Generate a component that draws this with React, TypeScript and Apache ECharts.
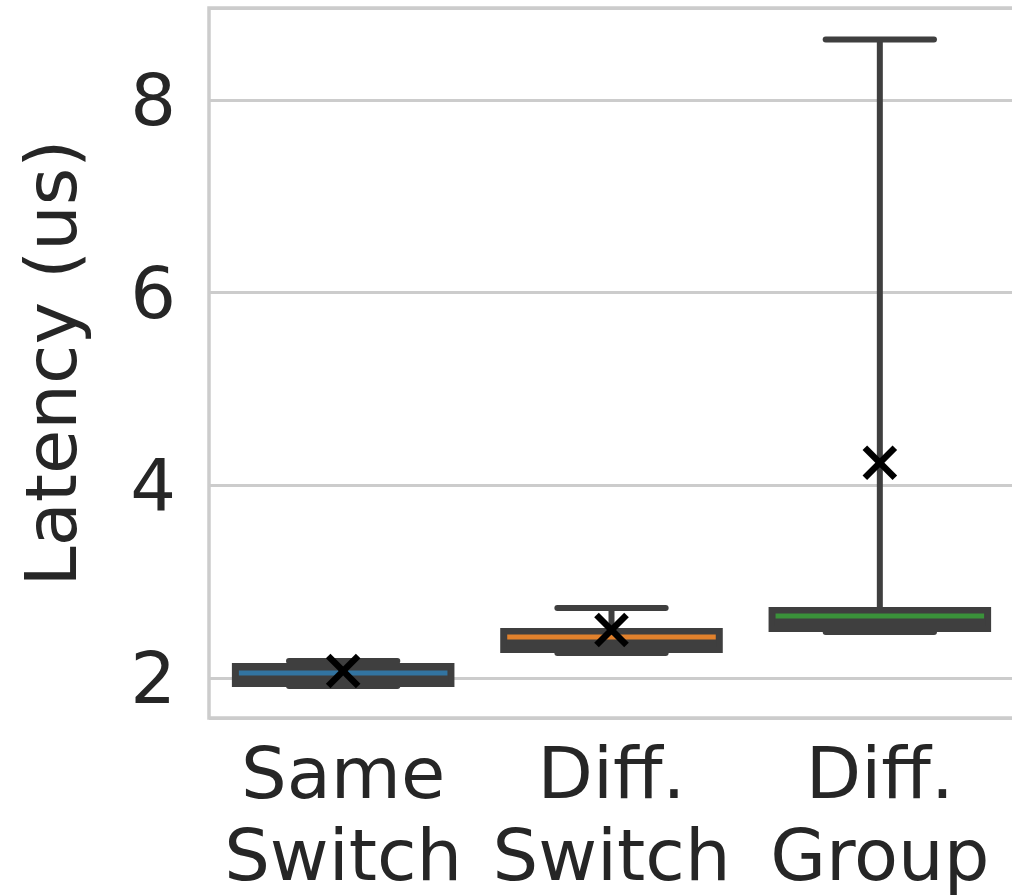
import React, { useEffect, useRef } from "react";
import * as echarts from "echarts";

const categories = ["Same\nSwitch", "Diff.\nSwitch", "Diff.\nGroup"];
const whiskerLow = [1.917, 2.26, 2.478];
const q1 = [1.938, 2.291, 2.509];
const median = [2.052, 2.426, 2.644];
const q3 = [2.125, 2.488, 2.706];
const whiskerHigh = [2.177, 2.727, 8.629];
const mean = [2.073, 2.499, 4.234];
const medianColors = ["#3274a1", "#e1812c", "#3a923a"];
const yTicks = [2, 4, 6, 8];

const LINE = "#3f3f3f";
const FONT = "DejaVu Sans";

export default function App() {
  const ref = useRef<HTMLDivElement>(null);
  useEffect(() => {
    if (!ref.current) return;
    const chart = echarts.init(ref.current, null, { renderer: "svg" });
    const data = categories.map((_, i) => [
      i,
      whiskerLow[i],
      q1[i],
      median[i],
      q3[i],
      whiskerHigh[i],
      mean[i],
    ]);
    const renderItem = (params: any, api: any) => {
      const i = api.value(0);
      const band = api.size([1, 0])[0];
      const half = (band * 0.807) / 2;
      const capHalf = half / 2;
      const cx = api.coord([i, api.value(1)])[0];
      const yLow = api.coord([i, api.value(1)])[1];
      const yQ1 = api.coord([i, api.value(2)])[1];
      const yMed = api.coord([i, api.value(3)])[1];
      const yQ3 = api.coord([i, api.value(4)])[1];
      const yHigh = api.coord([i, api.value(5)])[1];
      const [mx, my] = api.coord([i, api.value(6)]);
      const lw = 6;
      const s = 15;
      return {
        type: "group",
        children: [
          {
            type: "line",
            shape: { x1: cx, y1: yHigh, x2: cx, y2: yLow },
            style: { stroke: LINE, lineWidth: lw },
          },
          {
            type: "line",
            shape: { x1: cx - capHalf, y1: yHigh, x2: cx + capHalf, y2: yHigh },
            style: { stroke: LINE, lineWidth: lw, lineCap: "round" },
          },
          {
            type: "line",
            shape: { x1: cx - capHalf, y1: yLow, x2: cx + capHalf, y2: yLow },
            style: { stroke: LINE, lineWidth: lw, lineCap: "round" },
          },
          {
            type: "rect",
            shape: { x: cx - half, y: yQ3, width: 2 * half, height: yQ1 - yQ3 },
            style: { fill: LINE, stroke: LINE, lineWidth: lw },
          },
          {
            type: "line",
            shape: { x1: cx - half + 4, y1: yMed, x2: cx + half - 4, y2: yMed },
            style: { stroke: medianColors[i], lineWidth: 5 },
          },
          {
            type: "line",
            shape: { x1: mx - s, y1: my - s, x2: mx + s, y2: my + s },
            style: { stroke: "#000000", lineWidth: 6.5 },
          },
          {
            type: "line",
            shape: { x1: mx - s, y1: my + s, x2: mx + s, y2: my - s },
            style: { stroke: "#000000", lineWidth: 6.5 },
          },
        ],
      };
    };
    chart.setOption({
      animation: false,
      backgroundColor: "#ffffff",
      grid: {
        left: 209,
        right: -2,
        top: 8,
        bottom: 178,
        show: true,
        borderColor: "#cccccc",
        borderWidth: 3.5,
        containLabel: false,
        outerBoundsMode: "none",
      },
      xAxis: {
        type: "category",
        data: categories,
        boundaryGap: true,
        axisLine: { show: false },
        axisTick: { show: false },
        splitLine: { show: false },
        axisLabel: {
          fontFamily: FONT,
          fontSize: 72,
          color: "#262626",
          lineHeight: 82,
          margin: 14,
          interval: 0,
        },
      },
      yAxis: {
        type: "value",
        min: 1.585,
        max: 8.955,
        splitNumber: 3,
        minInterval: 2,
        maxInterval: 2,
        name: "Latency (us)",
        nameLocation: "middle",
        nameGap: 122,
        nameTextStyle: { fontFamily: FONT, fontSize: 72, color: "#262626" },
        axisLine: { show: false },
        axisTick: { show: false },
        splitLine: { show: true, lineStyle: { color: "#cccccc", width: 3 } },
        axisLabel: {
          fontFamily: FONT,
          fontSize: 72,
          color: "#262626",
          margin: 33,
          formatter: (v: number) => (yTicks.includes(Math.round(v * 1000) / 1000) ? String(v) : ""),
        },
      },
      series: [
        {
          type: "custom",
          renderItem,
          data,
          encode: { x: 0, y: [1, 2, 3, 4, 5, 6] },
          clip: false,
        },
      ],
    });
    return () => chart.dispose();
  }, []);
  return (
    <div
      ref={ref}
      style={{ position: "absolute", left: 0, top: 0, width: 1012, height: 896 }}
    />
  );
}
